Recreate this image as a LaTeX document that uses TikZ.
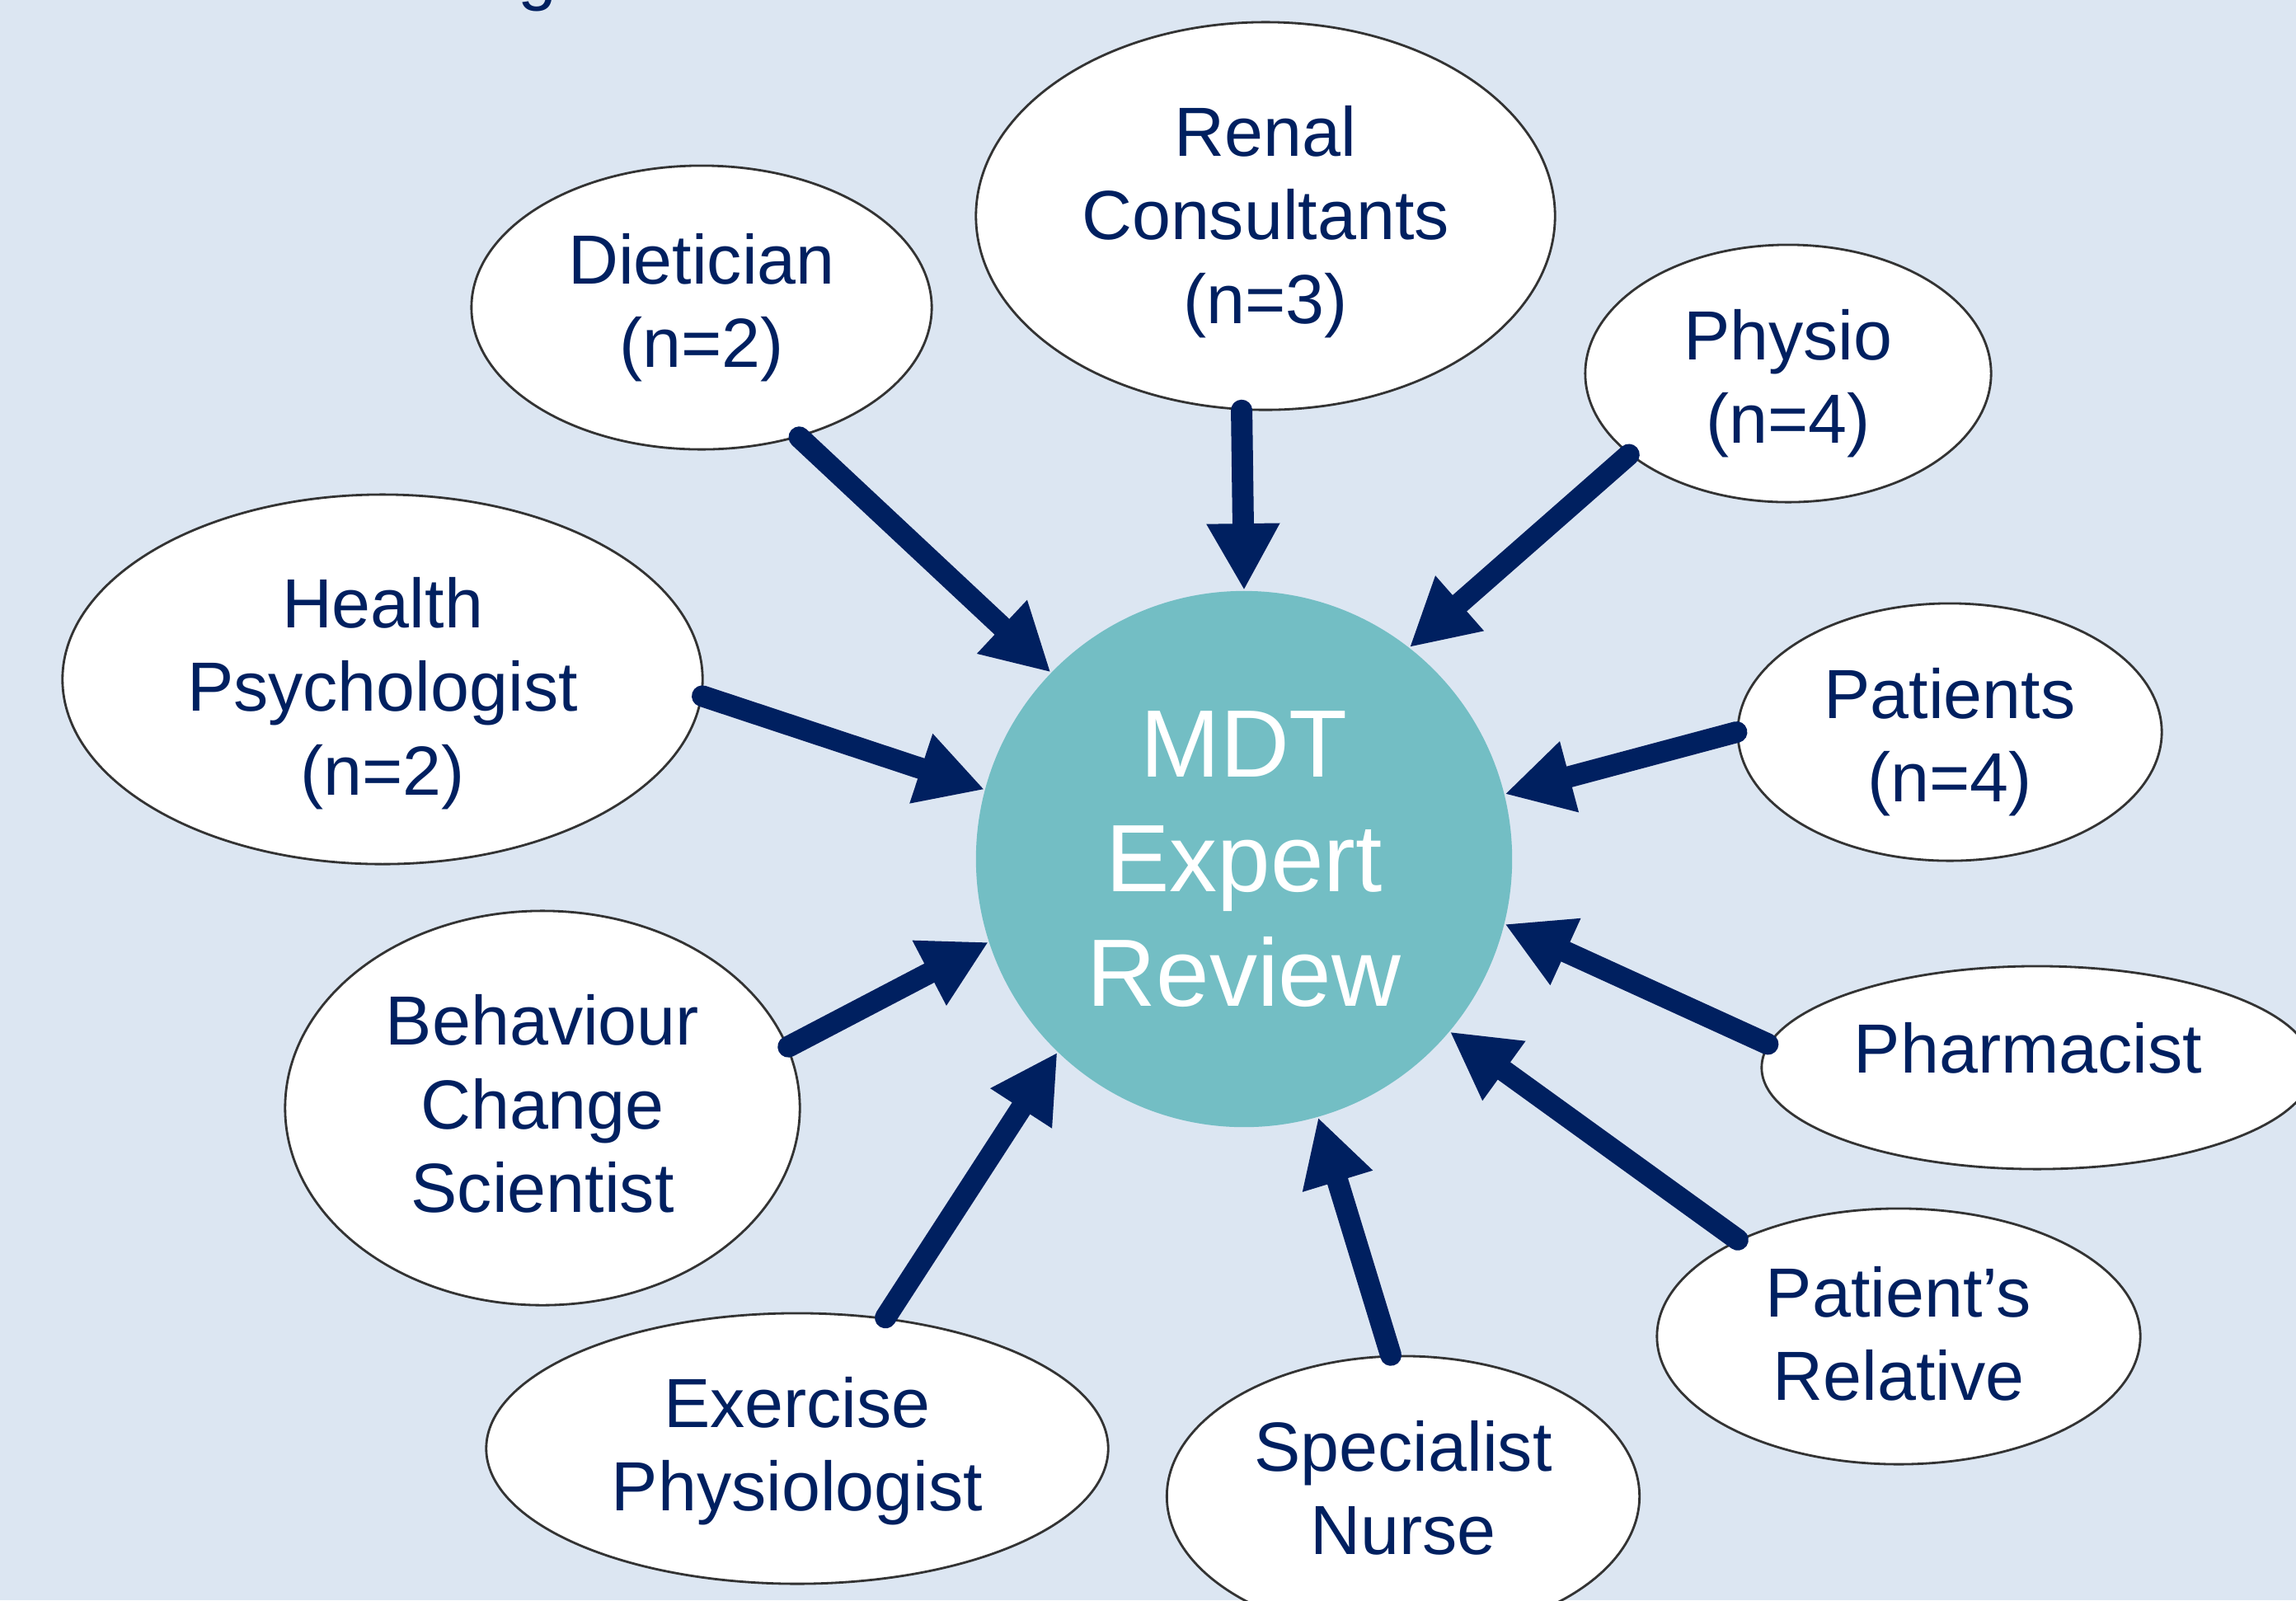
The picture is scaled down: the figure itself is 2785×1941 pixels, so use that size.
\documentclass[tikz,border=0pt]{standalone}
\usepackage{fontspec}
\setmainfont{Liberation Sans}
\usepackage{tikz}
\usetikzlibrary{arrows.meta}
\usetikzlibrary{shapes}
\definecolor{PaleBlue}{RGB}{220,230,242}
\definecolor{NavyText}{RGB}{0,32,96}
\definecolor{TealDisc}{RGB}{115,190,196}
\newcommand{\roleFont}{\fontsize{24}{28.8}\selectfont}
\newcommand{\hubFont}{\fontsize{33}{39.5}\selectfont}

\begin{document}
\begin{tikzpicture}[x=0.01cm, y=-0.01cm,
		role/.style={ellipse, draw=black!80, line width=0.8pt, fill=white, inner sep=0pt},
		roleText/.style={align=center, inner sep=0pt, text=NavyText, font=\roleFont},
		hub/.style={circle, fill=TealDisc, minimum size=6.5cm, inner sep=0pt, align=center, text=white, font=\hubFont},
		feed/.style={draw=NavyText, line width=2.6mm, line cap=round, -{Triangle[length=8.1mm, width=8.3mm]}}]

		\useasboundingbox (0,0) rectangle (2785,1941);
		\fill [PaleBlue] (0,0) rectangle (2785,1941);

		% tail of the heading above
		\node [roleText, anchor=base] (heading) at (652,-4) {g};

		\node [hub] (mdt) at (1509,1042) {MDT\\Expert\\Review};

		% ellipses, then their text a little off centre
		\node [role, minimum width=5.58cm, minimum height=3.44cm] (diet) at (851,373) {};
		\node [roleText] (dietText) at (851,373) {Dietician\\(n=2)};
		\node [role, minimum width=7.02cm, minimum height=4.70cm] (renal) at (1535,262) {};
		\node [roleText] (renalText) at (1535,269) {Renal\\Consultants\\(n=3)};
		\node [role, minimum width=4.92cm, minimum height=3.12cm] (physio) at (2169,453) {};
		\node [roleText] (physioText) at (2169,465) {Physio\\(n=4)};
		\node [role, minimum width=7.76cm, minimum height=4.48cm] (psych) at (464,824) {};
		\node [roleText] (psychText) at (464,841) {Health\\Psychologist\\(n=2)};
		\node [role, minimum width=5.14cm, minimum height=3.12cm] (pat) at (2365,888) {};
		\node [roleText] (patText) at (2365,900) {Patients\\(n=4)};
		\node [role, minimum width=6.24cm, minimum height=4.78cm] (behav) at (658,1344) {};
		\node [roleText] (behavText) at (658,1339) {Behaviour\\Change\\Scientist};
		\node [role, minimum width=6.68cm, minimum height=2.46cm] (pharm) at (2471,1295) {};
		\node [roleText] (pharmText) at (2460,1271) {Pharmacist};
		\node [role, minimum width=5.86cm, minimum height=3.10cm] (rel) at (2303,1621) {};
		\node [roleText] (relText) at (2303,1618) {Patient's\\Relative};
		\node [role, minimum width=7.54cm, minimum height=3.28cm] (exer) at (967,1757) {};
		\node [roleText] (exerText) at (967,1760) {Exercise\\Physiologist};
		\node [role, minimum width=5.73cm, minimum height=3.40cm] (nurse) at (1702,1815) {};
		\node [roleText] (nurseText) at (1702,1805) {Specialist\\Nurse};

		% everyone feeds into the review
		\draw [feed] (diet.-53) -- (mdt.136);
		\draw [feed] (renal.-97) -- (mdt.90);
		\draw [feed] (physio.207) -- (mdt.52);
		\draw [feed] (psych.-3) -- (mdt.165);
		\draw [feed] (pat.180) -- (mdt.14);
		\draw [feed] (behav.14) -- (mdt.198);
		\draw [feed] (pharm.175) -- (mdt.-14);
		\draw [feed] (rel.149) -- (mdt.-40);
		\draw [feed] (exer.56) -- (mdt.226);
		\draw [feed] (nurse.95) -- (mdt.-74);
	\end{tikzpicture}
\end{document}
